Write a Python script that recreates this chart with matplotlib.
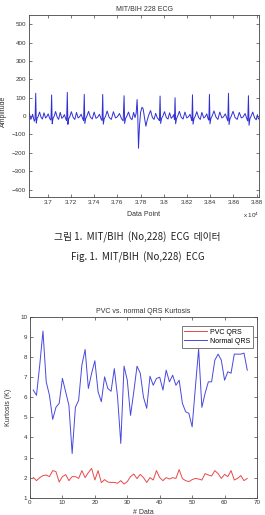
import matplotlib
matplotlib.use('Agg')
import matplotlib.pyplot as plt

plt.rcParams['font.family'] = ['Liberation Sans', 'DejaVu Sans']

# ECG trace, MIT/BIH record 228 (vertices)
ecg_x = [36839, 36846, 36855, 36862, 36870, 36878, 36885, 36891,
         36897, 36902, 36909, 36918, 36930, 36944, 36955, 36968, 36982, 36992, 37004, 37018, 37028,
         37034, 37039, 37046, 37056, 37068, 37082, 37094, 37108, 37122, 37132, 37144, 37156, 37163,
         37169, 37174, 37181, 37191, 37204, 37220, 37234, 37248, 37262, 37274, 37288, 37302, 37309,
         37315, 37320, 37328, 37338, 37352, 37368, 37384, 37400, 37416, 37430, 37446, 37460, 37468,
         37474, 37479, 37487, 37498, 37512, 37530, 37548, 37566, 37584, 37600, 37618, 37636, 37650,
         37658, 37663, 37671, 37682, 37696, 37712, 37726, 37740, 37752, 37762,
         37770, 37776, 37782, 37790, 37800, 37812, 37822, 37834, 37846, 37856, 37870, 37886, 37902,
         37916, 37930, 37944, 37956, 37962,
         37968, 37973, 37981, 37992, 38006, 38022, 38036, 38050, 38064, 38076, 38086, 38092,
         38097, 38102, 38110, 38120, 38134, 38150, 38166, 38182, 38198, 38212, 38226, 38238, 38242,
         38247, 38252, 38260, 38270, 38284, 38300, 38314, 38328, 38344, 38356, 38370, 38382, 38388,
         38393, 38398, 38406, 38416, 38432, 38450, 38466, 38482, 38500, 38514, 38530, 38544, 38551,
         38557, 38562, 38570, 38580, 38596, 38614, 38632, 38650, 38668, 38684, 38700, 38716, 38723,
         38729, 38734, 38742, 38752, 38766, 38782, 38796, 38806, 38814, 38820]
ecg_y = [15, 5, -18, -8, 10, -10, -28, -20,
         124, -38, -12, -2, 22, -8, -16, 18, -10, -4, 12, -14, -22,
         115, -42, -12, 0, 25, -6, -18, 20, -12, -6, 8, -16, -24,
         129, -45, -14, -2, 24, -8, -18, 20, -10, -4, 10, -15, -25,
         118, -40, -12, 0, 26, -6, -16, 22, -12, -6, 10, -16, -24,
         118, -44, -14, -2, 28, -8, -18, 24, -10, -4, 14, -14, -26,
         111, -40, -12, 0, 22, -10, -20, 20, -8, 15,
         90, 0, -175, -60, 20, 48, 40, -10, -55, -25, 5, 30, -8,
         -18, 15, -10, -18, -25,
         109, -40, -12, 0, 24, -8, -16, 18, -12, -4, 8, -20,
         100, -42, -12, 0, 26, -6, -16, 22, -10, -4, 10, -18, -24,
         116, -44, -14, -2, 24, -8, -18, 20, -10, -4, 12, -16, -22,
         118, -42, -12, 0, 28, -6, -18, 22, -10, -4, 12, -14, -26,
         124, -46, -14, -2, 26, -8, -18, 20, -10, -4, 14, -16, -26,
         111, -50, -14, 0, 22, -10, -20, 8, -16, -12]

ecg_xticks = [37000, 37200, 37400, 37600, 37800, 38000, 38200, 38400, 38600, 38800]
ecg_xlabels = ['3.7', '3.72', '3.74', '3.76', '3.78', '3.8', '3.82', '3.84', '3.86', '3.88']
ecg_yticks = [-400, -300, -200, -100, 0, 100, 200, 300, 400, 500]

# kurtosis of QRS complexes
n_data = list(range(1, 68))
pvc_k = [2.01, 1.85, 2.0, 2.1, 2.13, 2.05, 2.35, 2.3, 1.78, 2.05,
         2.15, 1.85, 2.05, 2.05, 1.96, 2.35, 2.0, 2.25, 2.46, 1.88,
         2.35, 1.75, 1.9, 1.78, 1.76, 1.76, 1.72, 1.85, 1.68, 1.8,
         2.05, 2.18, 1.95, 2.16, 2.0, 1.76, 2.0, 1.88, 2.35, 2.0,
         1.85, 2.0, 1.93, 2.0, 1.96, 2.4, 1.95, 1.85, 1.8, 1.9,
         1.96, 1.93, 1.88, 2.2, 2.13, 2.08, 2.35, 2.2, 1.96, 2.16,
         2.05, 2.35, 1.88, 1.96, 2.1, 1.85, 1.96]
normal_k = [6.36, 6.1, 7.6, 9.3, 6.77, 6.1, 4.9, 5.5, 5.7, 6.94,
            6.27, 5.6, 3.2, 5.5, 5.85, 7.6, 8.38, 6.44, 7.2, 7.82,
            6.27, 5.78, 7.02, 6.44, 6.3, 7.43, 6.02, 3.7, 7.55, 6.85,
            5.1, 6.27, 7.55, 7.2, 6.0, 5.45, 7.05, 6.6, 6.94, 7.0,
            6.36, 7.35, 6.77, 7.1, 6.6, 6.85, 5.7, 5.28, 5.2, 4.53,
            6.5, 8.4, 5.5, 6.2, 6.77, 6.77, 7.85, 8.15, 7.85, 6.85,
            7.27, 7.2, 8.15, 8.15, 8.15, 8.2, 7.35]

fig = plt.figure(figsize=(2.65, 5.15), dpi=100)
fig.patch.set_facecolor('white')


def matlab_axes(ax):
    for s in ax.spines.values():
        s.set_linewidth(0.6)
        s.set_color('#444444')
    ax.tick_params(direction='in', length=2, width=0.5, labelsize=4.5, pad=2,
                   top=True, right=True, colors='#444444', labelcolor='#333333')


# --- top: ECG
ax1 = fig.add_axes([0.1094, 0.6175, 0.868, 0.3534])
ax1.plot(ecg_x, ecg_y, color='#3030d4', lw=0.7)
ax1.set_xlim(36839, 38820)
ax1.set_ylim(-440, 550)
ax1.set_xticks(ecg_xticks)
ax1.set_xticklabels(ecg_xlabels)
ax1.set_yticks(ecg_yticks)
matlab_axes(ax1)
ax1.set_title('MIT/BIH 228 ECG', fontsize=5, pad=3, color='#333333')
ax1.set_ylabel('Amplitude', fontsize=5, color='#333333')
ax1.yaxis.set_label_coords(-0.096, 0.47)
ax1.set_xlabel('Data Point', fontsize=5, color='#333333')
ax1.xaxis.set_label_coords(0.5, -0.077)
ax1.text(1.0, -0.1, 'x 10$^4$', transform=ax1.transAxes, fontsize=4.5,
         ha='right', va='center', color='#333333')

# captions
fig.text(0.52, 1 - 237 / 515, '그림 1.  MIT/BIH  (No,228)  ECG  데이터',
         fontsize=7, ha='center', va='center', color='#222222',
         family=['Noto Sans CJK KR', 'DejaVu Sans'])
fig.text(0.52, 1 - 257 / 515, 'Fig. 1.  MIT/BIH  (No,228)  ECG',
         fontsize=7, ha='center', va='center', color='#222222',
         family=['Noto Sans CJK KR', 'DejaVu Sans'])

# --- bottom: kurtosis
ax2 = fig.add_axes([0.1132, 0.0336, 0.8566, 0.3509])
ax2.plot(n_data, pvc_k, color='#e84a4a', lw=0.7, label='PVC QRS')
ax2.plot(n_data, normal_k, color='#4848e0', lw=0.7, label='Normal QRS')
ax2.set_xlim(0, 70)
ax2.set_ylim(1, 10)
ax2.set_xticks(range(0, 71, 10))
ax2.set_yticks(range(1, 11))
matlab_axes(ax2)
ax2.set_title('PVC vs. normal QRS Kurtosis', fontsize=5, pad=3, color='#333333')
ax2.set_ylabel('Kurtosis (K)', fontsize=5, color='#333333')
ax2.yaxis.set_label_coords(-0.078, 0.5)
ax2.set_xlabel('# Data', fontsize=5, color='#333333')
ax2.xaxis.set_label_coords(0.5, -0.062)
leg = ax2.legend(loc='upper right', bbox_to_anchor=(0.998, 0.97), fontsize=5,
                 handlelength=3.3, fancybox=False, framealpha=1,
                 borderpad=0.4, labelspacing=0.3, handletextpad=0.4)
leg.get_frame().set_edgecolor('#444444')
leg.get_frame().set_linewidth(0.5)

fig.savefig('out.png', dpi=100)
